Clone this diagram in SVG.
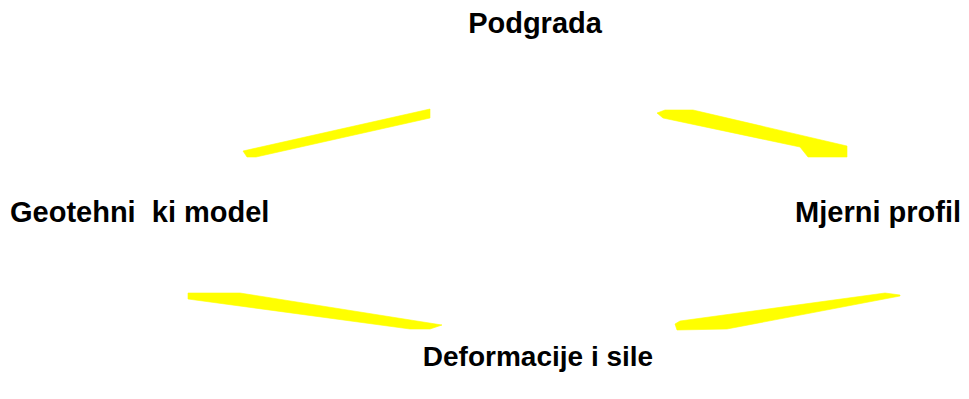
<svg xmlns="http://www.w3.org/2000/svg" width="969" height="399" viewBox="0 0 969 399">
  <style>
    .lbl { font-family: "Liberation Sans", Arial, sans-serif; font-weight: bold; font-size: 29px; fill: #000000; }
    .arr { fill: #FFFF00; stroke: #FFFF00; stroke-width: 0.6; stroke-linejoin: round; }
  </style>
  <rect x="0" y="0" width="969" height="399" fill="#FFFFFF"/>
  <g id="connectors">
    <polygon class="arr" points="243,151 430,109 430,118 256,157 247,157"/>
    <polygon class="arr" points="657,113 665,110 693,110 847,146 847,157 808,157 800,147 663,118"/>
    <polygon class="arr" points="188,293 240,293 442,325 430,329 410,329 188,299"/>
    <polygon class="arr" points="900,295 885,293 680,321 675,324 677,330 727,329 900,296"/>
  </g>
  <g id="node-podgrada">
    <text class="lbl" x="535" y="33" text-anchor="middle">Podgrada</text>
  </g>
  <g id="node-geotehnicki-model">
    <text class="lbl" x="10" y="222" xml:space="preserve">Geotehni  ki model</text>
  </g>
  <g id="node-mjerni-profil">
    <text class="lbl" x="961" y="222" text-anchor="end">Mjerni profil</text>
  </g>
  <g id="node-deformacije-i-sile">
    <text class="lbl" x="538" y="366" text-anchor="middle" style="font-size:28px">Deformacije i sile</text>
  </g>
</svg>
